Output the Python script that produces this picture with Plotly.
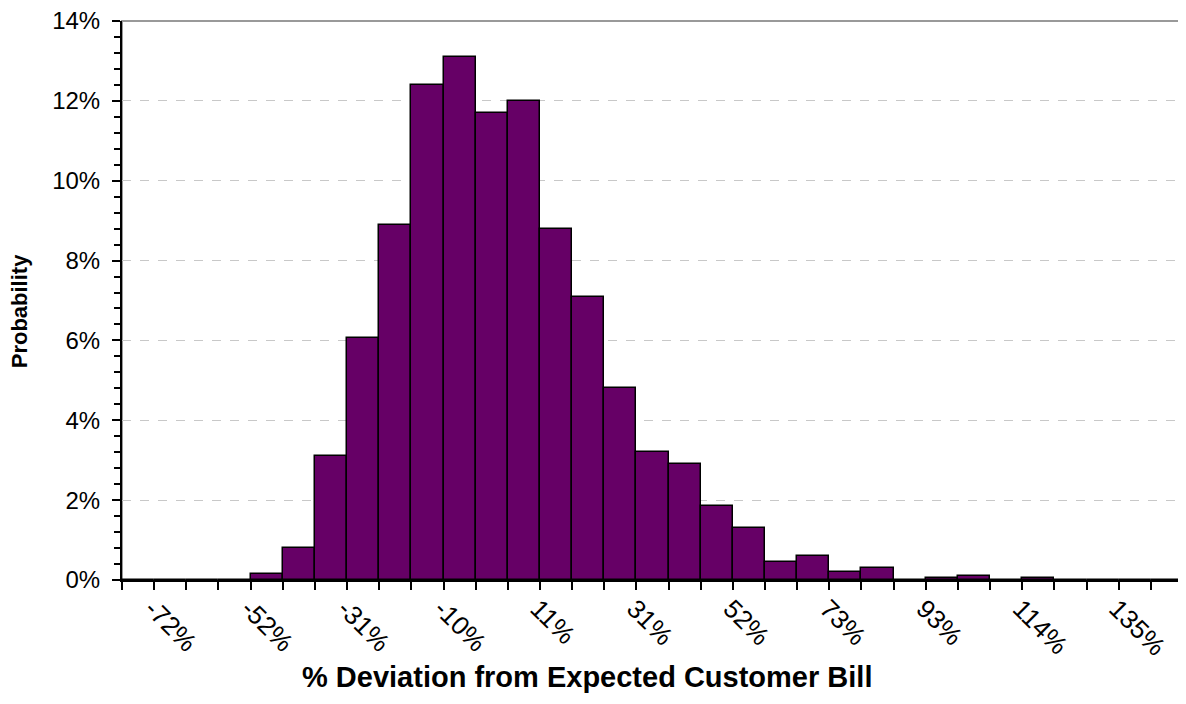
import plotly.graph_objects as go

# histogram bins, left to right (probability in %)
probability = [
    0.0, 0.0, 0.0, 0.0, 0.15, 0.8, 3.1, 6.05, 8.9, 12.4, 13.1,
    11.7, 12.0, 8.8, 7.1, 4.8, 3.2, 2.9, 1.85, 1.3, 0.45, 0.6,
    0.2, 0.3, 0.0, 0.05, 0.1, 0.0, 0.05, 0.0, 0.0, 0.0, 0.0,
]
bins = list(range(len(probability)))

# every third bin carries a label
label_bins = [1, 4, 7, 10, 13, 16, 19, 22, 25, 28, 31]
label_text = ["-72%", "-52%", "-31%", "-10%", "11%", "31%",
              "52%", "73%", "93%", "114%", "135%"]

FONT = "Liberation Sans, Arial, sans-serif"

fig = go.Figure()

fig.add_trace(
    go.Bar(
        x=bins,
        y=[p / 100 for p in probability],
        width=1,
        marker=dict(color="#660066", line=dict(color="black", width=1.5)),
    )
)

# gray frame on top/right like the original plot area border
fig.add_shape(type="rect", xref="paper", yref="paper", x0=0, x1=1, y0=0, y1=1,
              line=dict(color="#999999", width=2), layer="below")

fig.update_xaxes(
    range=[-0.5, len(probability) - 0.5],
    tickvals=label_bins,
    ticktext=label_text,
    tickangle=45,
    ticks="",
    ticklabelshift=-18,
    ticklabelstandoff=1,
    ticklabeloverflow="allow",
    tickfont=dict(family=FONT, size=26, color="black"),
    minor=dict(tick0=-0.5, dtick=1, ticks="outside", ticklen=8,
               tickcolor="black", tickwidth=1.5, showgrid=False),
    showline=True, linecolor="black", linewidth=2,
    showgrid=False, zeroline=False,
    automargin=False,
)

fig.update_yaxes(
    range=[0, 0.14],
    dtick=0.02,
    tickformat=".0%",
    ticks="outside", ticklen=8, tickcolor="black", tickwidth=1.5,
    ticklabelstandoff=7,
    ticklabeloverflow="allow",
    tickfont=dict(family=FONT, size=24, color="black"),
    minor=dict(dtick=0.004, ticks="outside", ticklen=6,
               tickcolor="black", tickwidth=1.5, showgrid=False),
    showline=True, linecolor="black", linewidth=2,
    showgrid=True, gridcolor="#c8c8c8", griddash="dash", gridwidth=1,
    zeroline=False,
    automargin=False,
)

# axis titles placed as in the original (x title sits left of centre)
fig.add_annotation(text="<b>% Deviation from Expected Customer Bill</b>",
                   xref="paper", yref="paper", x=0.438, y=-0.173,
                   xanchor="center", yanchor="middle", showarrow=False,
                   font=dict(family=FONT, size=29, color="black"))
fig.add_annotation(text="<b>Probability</b>", textangle=-90,
                   xref="paper", yref="paper", x=-0.0965, y=0.48,
                   xanchor="center", yanchor="middle", showarrow=False,
                   font=dict(family=FONT, size=22, color="black"))

fig.update_layout(
    width=1186,
    height=704,
    margin={"l": 114, "r": 11, "t": 13, "b": 132},
    plot_bgcolor="white",
    paper_bgcolor="white",
    showlegend=False,
    bargap=0,
)

fig.write_html("out.html")
